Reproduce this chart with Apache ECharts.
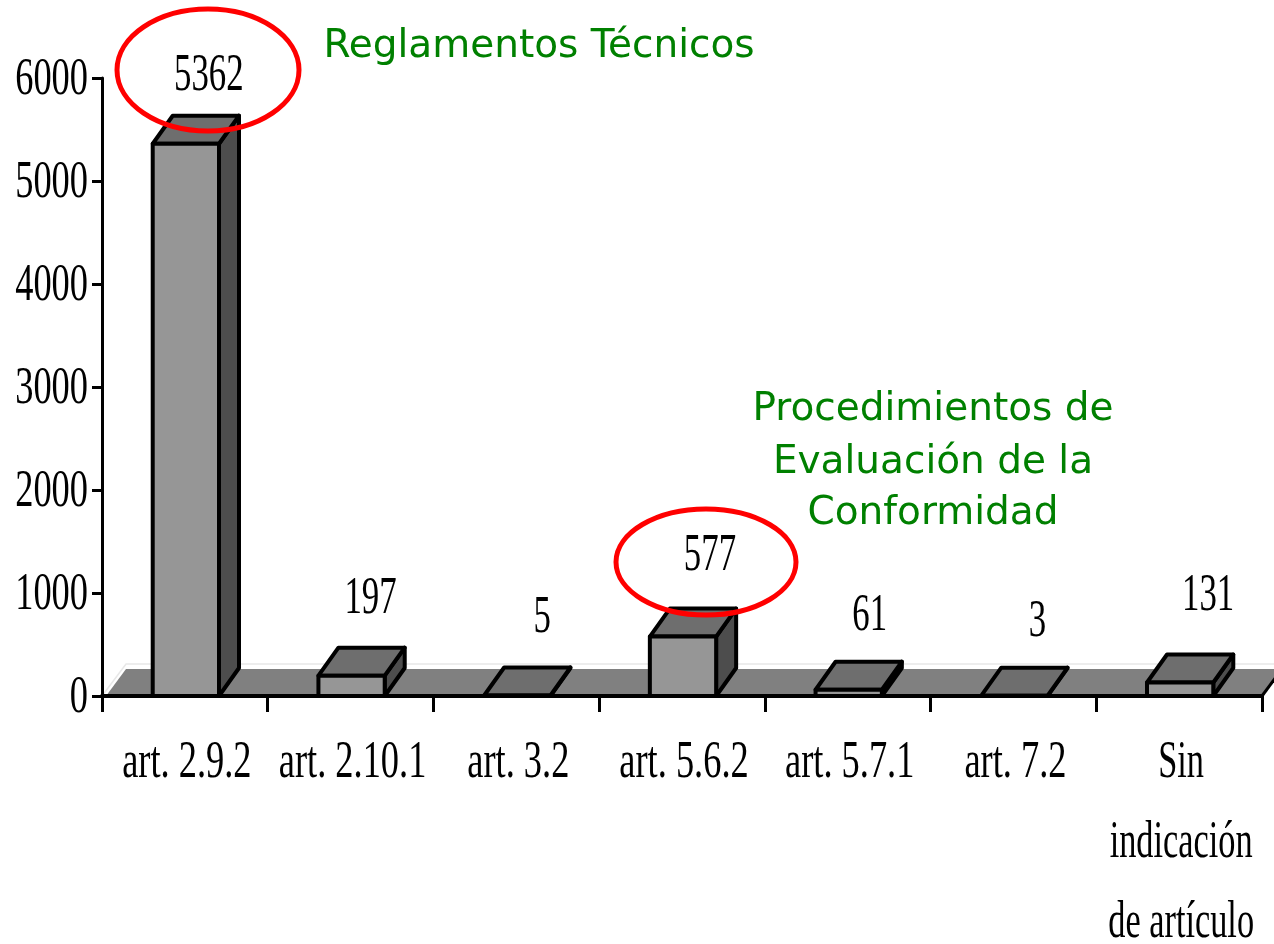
<!DOCTYPE html>
<html>
<head>
<meta charset="utf-8">
<title>Reglamentos Técnicos</title>
<style>
  html, body { margin: 0; padding: 0; background: #fff; }
  #chart { width: 1274px; height: 944px; }
</style>
<script src="https://cdn.jsdelivr.net/npm/echarts@6/dist/echarts.min.js"></script>
</head>
<body>
<div id="chart"></div>
<script>
// datos
const categories = ['art. 2.9.2', 'art. 2.10.1', 'art. 3.2', 'art. 5.6.2', 'art. 5.7.1', 'art. 7.2', 'Sin\nindicación\nde artículo'];
const values = [5362, 197, 5, 577, 61, 3, 131];
const yTicks = [0, 1000, 2000, 3000, 4000, 5000, 6000];

// desplazamiento de cada etiqueta respecto a su barra (px)
const labelLift = [70, 79, 80, 83, 76, 76, 89];
const labelShift = [24, 20, 26, 28, 22, 24, 29];

const serifFont = '"Liberation Serif", "Times New Roman", serif';
const greenFont = '"DejaVu Sans", sans-serif';
const depthX = 20, depthY = 28;

// texto estrecho (el original tiene el texto comprimido)
function narrowText(x, y, text, narrow, align) {
  return {
    type: 'text',
    x: x,
    y: y + 3,
    scaleX: narrow,
    style: {
      text: text,
      x: 0,
      y: 0,
      font: '52px ' + serifFont,
      fill: '#000',
      align: align || 'center',
      verticalAlign: 'middle'
    }
  };
}

// texto verde
function greenText(x, y, text) {
  return {
    type: 'text',
    z: 100,
    silent: true,
    x: x,
    y: y,
    style: { text: text, font: '39px ' + greenFont, fill: '#008000', align: 'center', verticalAlign: 'middle' }
  };
}

// suelo 3d
function renderFloor(params, api) {
  const start = api.coord([0, 0]);
  const left = params.coordSys.x;
  const right = left + params.coordSys.width;
  const y = start[1];
  return {
    type: 'group',
    children: [
      {
        type: 'polyline',
        shape: { points: [[left, y], [left + 24, y - 32], [1274, y - 32]] },
        style: { stroke: '#e8e8e8', fill: null, lineWidth: 1.5 }
      },
      {
        type: 'polygon',
        shape: { points: [[left + 4, y], [left + 24, y - 27], [right + 22, y - 27], [right, y]] },
        style: { fill: '#808080', stroke: null }
      },
      {
        type: 'line',
        shape: { x1: right, y1: y, x2: right + 20, y2: y - 27 },
        style: { stroke: '#000', lineWidth: 3 }
      }
    ]
  };
}

// barras 3d
function renderBar(params, api) {
  const top = api.coord([api.value(0), api.value(1)]);
  const bottom = api.coord([api.value(0), 0]);
  const w = api.size([1, 0])[0] * 0.4;
  const x0 = top[0] - w / 2 + 1;
  const x1 = top[0] + w / 2 + 1;
  const edge = { stroke: '#000', lineWidth: 4, lineJoin: 'round' };
  const face = function (points, color) {
    return {
      type: 'polygon',
      shape: { points: points },
      style: Object.assign({ fill: color }, edge)
    };
  };
  return {
    type: 'group',
    children: [
      face([[x1, top[1]], [x1 + depthX, top[1] - depthY], [x1 + depthX, bottom[1] - depthY], [x1, bottom[1]]], '#4d4d4d'),
      face([[x0, top[1]], [x0 + depthX, top[1] - depthY], [x1 + depthX, top[1] - depthY], [x1, top[1]]], '#6e6e6e'),
      face([[x0, top[1]], [x1, top[1]], [x1, bottom[1]], [x0, bottom[1]]], '#969696')
    ]
  };
}

// etiquetas de valor
function renderValueLabel(params, api) {
  const top = api.coord([api.value(0), api.value(1)]);
  return narrowText(top[0] + labelShift[params.dataIndex], top[1] - labelLift[params.dataIndex], String(api.value(1)), 0.67);
}

// etiquetas del eje x
function renderCategoryLabel(params, api) {
  const base = api.coord([api.value(0), 0]);
  const lines = categories[params.dataIndex].split('\n');
  return {
    type: 'group',
    children: lines.map(function (line, i) {
      return narrowText(base[0] + 2, base[1] + 64 + i * 80, line, lines.length > 1 ? 0.66 : 0.7);
    })
  };
}

// etiquetas del eje y
function renderTickLabel(params, api) {
  const pos = api.coord([0, api.value(1)]);
  return narrowText(params.coordSys.x - 14, pos[1] - 1, String(api.value(1)), 0.7, 'right');
}

const chart = echarts.init(document.getElementById('chart'));
chart.setOption({
  animation: false,
  backgroundColor: '#fff',
  grid: { left: 102, right: 12, top: 78, bottom: 248 },
  xAxis: {
    type: 'category',
    data: categories,
    z: 5,
    axisLine: { lineStyle: { color: '#000', width: 4 } },
    axisTick: { show: true, interval: 0, length: 16, lineStyle: { color: '#000', width: 3 } },
    axisLabel: { show: false },
    splitLine: { show: false }
  },
  yAxis: {
    type: 'value',
    min: 0,
    max: 6000,
    interval: 1000,
    z: 5,
    axisLine: { show: true, lineStyle: { color: '#000', width: 3 } },
    axisTick: { show: true, length: 10, lineStyle: { color: '#000', width: 3 } },
    axisLabel: { show: false },
    splitLine: { show: false }
  },
  series: [
    { type: 'custom', z: 1, silent: true, renderItem: renderFloor, data: [[0, 0]] },
    { type: 'custom', z: 2, silent: true, renderItem: renderBar, encode: { x: 0, y: 1 }, data: values.map(function (v, i) { return [i, v]; }) },
    { type: 'custom', z: 3, silent: true, renderItem: renderValueLabel, encode: { x: 0, y: 1 }, data: values.map(function (v, i) { return [i, v]; }) },
    { type: 'custom', z: 3, silent: true, renderItem: renderCategoryLabel, encode: { x: 0 }, data: categories.map(function (c, i) { return [i, 0]; }) },
    { type: 'custom', z: 3, silent: true, renderItem: renderTickLabel, encode: { y: 1 }, data: yTicks.map(function (t) { return [0, t]; }) }
  ],
  graphic: [
    { type: 'ellipse', z: 100, silent: true, shape: { cx: 208, cy: 70, rx: 91, ry: 61 }, style: { fill: null, stroke: '#ff0000', lineWidth: 5 } },
    { type: 'ellipse', z: 100, silent: true, shape: { cx: 706, cy: 562, rx: 90, ry: 53 }, style: { fill: null, stroke: '#ff0000', lineWidth: 5 } },
    greenText(539, 47, 'Reglamentos Técnicos'),
    greenText(933, 410, 'Procedimientos de'),
    greenText(933, 463, 'Evaluación de la'),
    greenText(933, 514, 'Conformidad')
  ]
});
</script>
</body>
</html>
